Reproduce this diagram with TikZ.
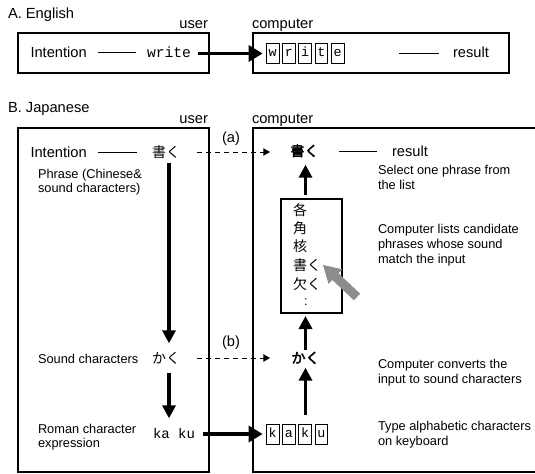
\documentclass[tikz,border=0pt]{standalone}
\usepackage{fontspec}
\setmainfont{Liberation Sans}
\setmonofont{Liberation Mono}
\newfontfamily\jpfont[AutoFakeBold=2.5]{Noto Sans CJK JP}
\usetikzlibrary{arrows.meta}
\begin{document}
\begin{tikzpicture}[x=0.75pt,y=-0.75pt,
  every node/.style={inner sep=0pt, outer sep=0pt},
  big/.style={font=\fontsize{11}{13}\selectfont},
  small/.style={font=\fontsize{9.6}{11}\selectfont},
  mono/.style={font=\fontsize{11}{13}\selectfont\ttfamily},
  jpn/.style={font=\fontsize{10.5}{12}\selectfont\jpfont, text height=0.88em, text depth=0.12em},
  jpb/.style={font=\fontsize{10.5}{12}\selectfont\jpfont\bfseries, text height=0.88em, text depth=0.12em},
  frame/.style={draw=black, line width=0.8pt},
  keybox/.style={draw, line width=0.6pt, minimum width=9.6pt, minimum height=15pt,
     text height=5pt, text depth=0.5pt, font=\fontsize{10}{12}\selectfont\ttfamily},
  thinline/.style={line width=0.65pt},
  vbig/.style={line width=2.5pt, -{Triangle[length=9.75pt,width=9.75pt]}},
  hbig/.style={line width=2.5pt, -{Triangle[length=10.5pt,width=12pt]}},
  dasharrow/.style={line width=0.7pt, dash pattern=on 3.75pt off 3pt, -{Triangle[length=5pt,width=5.5pt]}},
]
\useasboundingbox (0,0) rectangle (535,474);

% ---------------- A. English ----------------
\node[big, anchor=base west] (titleA) at (8,18.5) {A. English};
\node[big, anchor=base east] (userA) at (208,28.5) {user};
\node[big, anchor=base west] (compA) at (252,28.5) {computer};
\draw[frame] (18,33) rectangle (209,73);
\draw[frame] (253,33) rectangle (509,73);
\node[big, anchor=base west] (intA) at (30.5,58) {Intention};
\node[mono, anchor=base west] (writeU) at (147,57.5) {write};
\draw[thinline] ([xshift=8.25pt]intA.east) -- ([xshift=-8.25pt]intA.east -| writeU.west);
\foreach \ch [count=\i] in {w,r,i,t,e}
  \node[keybox] (w\i) at ({272.5+16.3*(\i-1)},53.5) {\ch};
\node[big, anchor=base west] (resA) at (453,57.5) {result};
\draw[thinline] ([xshift=41pt]w5.east) -- ([xshift=-10.5pt]w5.east -| resA.west);
\draw[hbig] ([xshift=5.25pt]writeU.east |- w1.west) -- ([xshift=-2.6pt]w1.west);

% ---------------- B. Japanese ----------------
\node[big, anchor=base west] (titleB) at (8,112.5) {B. Japanese};
\node[big, anchor=base east] (userB) at (208,123.5) {user};
\node[big, anchor=base west] (compB) at (252,123.5) {computer};
\draw[frame] (18,128) rectangle (209,472);
\draw[frame] (545,128) -- (253,128) -- (253,472) -- (545,472);

\node[big, anchor=base west] (intB) at (30.5,157.3) {Intention};
\node[jpn] (shoU) at (166,152) {書く};
\draw[thinline] ([xshift=8.25pt]intB.east) -- ([xshift=-11.25pt]intB.east -| shoU.west);
\node[jpb] (shoC) at (304.5,151) {書く};
\node[big, anchor=base west] (resB) at (392,156.5) {result};
\draw[thinline] ([xshift=15.4pt]shoC.east) -- ([xshift=-11.25pt]shoC.east -| resB.west);
\draw[dasharrow] ([xshift=12.75pt]shoU.east) -- ([xshift=-15.4pt]shoC.west |- shoU.east);
\node[big] (labA) at (231,139) {(a)};

\node[small, anchor=base west] (phr1) at (38,178) {Phrase (Chinese\&};
\node[small, anchor=base west] (phr2) at (38,192.5) {sound characters)};

\node[jpn] (kanaU) at (166,358) {かく};
\node[small, anchor=base west] (sndU) at (38,363) {Sound characters};
\draw[vbig] ([xshift=2.25pt,yshift=-3pt]shoU.south) -- ([xshift=2.25pt,yshift=6pt]kanaU.north);
\node[jpb] (kanaC) at (305.5,358) {かく};
\draw[dasharrow] ([xshift=12.75pt]kanaU.east) -- ([xshift=-16.1pt]kanaC.west |- kanaU.east);
\node[big] (labB) at (231,343) {(b)};

\node[small, anchor=base west] (rom1) at (38,433) {Roman character};
\node[small, anchor=base west] (rom2) at (38,447.5) {expression};
\node[font=\fontsize{10.5}{12}\selectfont\ttfamily, anchor=base west] (kakuR) at (153,438.5) {ka ku};
\draw[vbig] ([xshift=2.25pt,yshift=-6pt]kanaU.south) -- ([xshift=2.25pt,yshift=7.5pt]kanaU.south |- kakuR.north);

\foreach \ch [count=\i] in {k,a,k,u}
  \node[keybox] (k\i) at ({272.5+16.3*(\i-1)},434) {\ch};
\draw[hbig] ([xshift=6pt]kakuR.east |- k1.west) -- ([xshift=-2.6pt]k1.west);

% computer column
\draw[vbig] ([yshift=6.75pt]kanaC.south |- k3.north) -- ([yshift=-2.25pt]kanaC.south);
\node[draw, line width=0.8pt, minimum width=45.75pt, minimum height=85.5pt] (list) at (311.5,256) {};
\draw[vbig] ([yshift=0.75pt]kanaC.north) -- ([yshift=-2.25pt]kanaC.north |- list.south);
\draw[vbig] ([yshift=3pt]kanaC.north |- list.north) -- ([yshift=-5.25pt]kanaC.north |- shoC.south);

\node[jpn, anchor=west] (c1) at (293,210) {各};
\node[jpn, anchor=west] (c2) at (293,228.5) {角};
\node[jpn, anchor=west] (c3) at (293,246.5) {核};
\node[jpn, anchor=west] (c4) at (293,265) {書く};
\node[jpn, anchor=west] (c5) at (293,284) {欠く};
\node[small] (c6) at (306,302) {:};

% gray pointer arrow
\fill[black!45] (323,265) -- (342.25,269.3) -- (338.5,273.3) -- (360.1,293.7)
  -- (353.9,300.3) -- (332.3,279.9) -- (328.55,283.9) -- cycle;

% right descriptions
\node[small, anchor=base west] (sel1) at (378,175) {Select one phrase from};
\node[small, anchor=base west] (sel2) at (378,190) {the list};
\node[small, anchor=base west] (lst1) at (378,233) {Computer lists candidate};
\node[small, anchor=base west] (lst2) at (378,248) {phrases whose sound};
\node[small, anchor=base west] (lst3) at (378,263) {match the input};
\node[small, anchor=base west] (cnv1) at (378,368.5) {Computer converts the};
\node[small, anchor=base west] (cnv2) at (378,383.5) {input to sound characters};
\node[small, anchor=base west] (typ1) at (378,430) {Type alphabetic characters};
\node[small, anchor=base west] (typ2) at (378,445) {on keyboard};
\end{tikzpicture}
\end{document}
